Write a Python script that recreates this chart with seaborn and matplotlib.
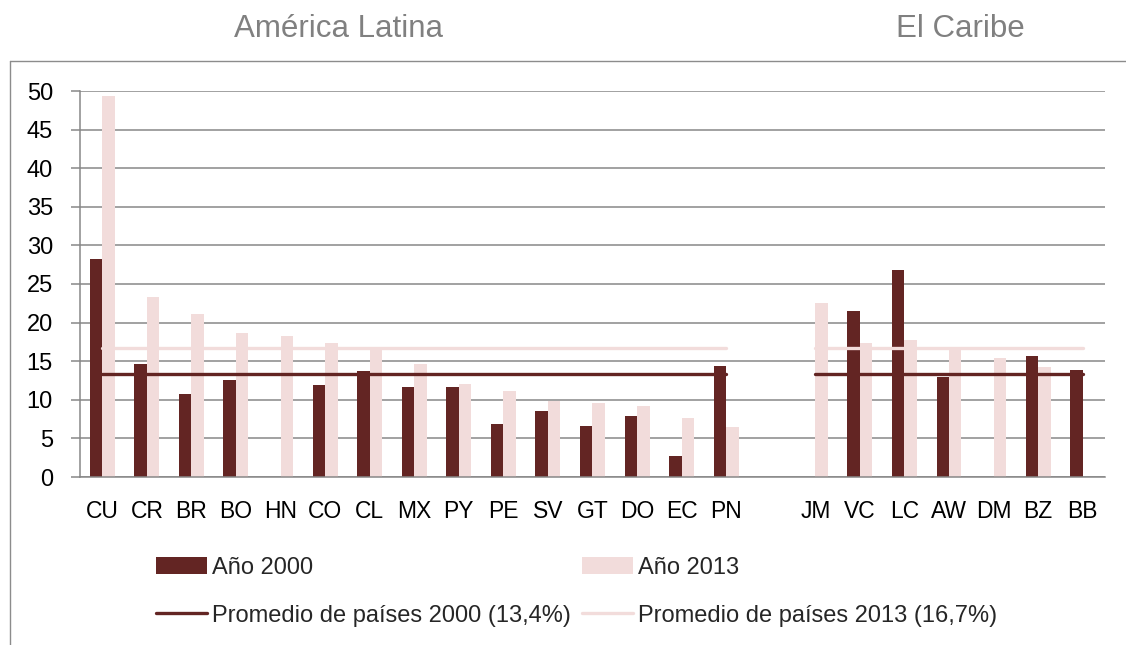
import numpy as np
import pandas as pd
import matplotlib
matplotlib.use("Agg")
import matplotlib.pyplot as plt
import seaborn as sns
from matplotlib.patches import Patch
from matplotlib.lines import Line2D

nan = np.nan

# ---- data ----
categorias = ["CU", "CR", "BR", "BO", "HN", "CO", "CL", "MX", "PY", "PE", "SV", "GT", "DO", "EC", "PN",
              "",
              "JM", "VC", "LC", "AW", "DM", "BZ", "BB"]
anio_2000 = [28.3, 14.6, 10.7, 12.6, nan, 11.9, 13.7, 11.7, 11.7, 6.9, 8.5, 6.6, 7.9, 2.7, 14.4,
             nan,
             nan, 21.5, 26.8, 13.0, nan, 15.7, 13.9]
anio_2013 = [49.4, 23.3, 21.1, 18.6, 18.2, 17.4, 16.9, 14.6, 12.0, 11.1, 9.8, 9.6, 9.2, 7.7, 6.5,
             nan,
             22.5, 17.4, 17.7, 16.6, 15.4, 14.3, nan]
grupo_latina = ["CU", "CR", "BR", "BO", "HN", "CO", "CL", "MX", "PY", "PE", "SV", "GT", "DO", "EC", "PN"]
grupo_caribe = ["JM", "VC", "LC", "AW", "DM", "BZ", "BB"]
promedio_2000 = 13.4
promedio_2013 = 16.7
series = ["Año 2000", "Año 2013"]
etiquetas_promedio = ["Promedio de países 2000 (13,4%)", "Promedio de países 2013 (16,7%)"]
titulos = ["América Latina", "El Caribe"]
yticks = [0, 5, 10, 15, 20, 25, 30, 35, 40, 45, 50]

# ---- style ----
sns.set_style("white")
plt.rcParams["font.family"] = ["Liberation Sans", "DejaVu Sans"]

DARK = "#632523"
LIGHT = "#F2DCDB"
GRID = "#878787"

W, H = 1126, 645
fig = plt.figure(figsize=(W / 100, H / 100), dpi=100)
ax = fig.add_axes([80 / W, 1 - 477 / H, (1105 - 80) / W, (477 - 91) / H])

df = pd.DataFrame({
    "pais": categorias * 2,
    "serie": [series[0]] * len(categorias) + [series[1]] * len(categorias),
    "valor": anio_2000 + anio_2013,
}).dropna()

sns.barplot(data=df, x="pais", y="valor", hue="serie", order=categorias, hue_order=series,
            palette={series[0]: DARK, series[1]: LIGHT}, width=0.56, saturation=1,
            errorbar=None, linewidth=0, legend=False, ax=ax, zorder=2)

for prom, color in [(promedio_2013, LIGHT), (promedio_2000, DARK)]:
    for grupo in (grupo_latina, grupo_caribe):
        xs = [categorias.index(c) for c in grupo]
        sns.lineplot(x=xs, y=[prom] * len(xs), color=color, lw=2.4, ax=ax,
                     solid_capstyle="round", zorder=4, legend=False)

ax.set_xlim(-0.5, len(categorias) - 0.5)
ax.set_ylim(0, 50)
ax.set_yticks(yticks)
ax.set_xticks(range(len(categorias)))
ax.set_xticklabels(categorias)
ax.set_xticks(np.arange(-0.5, len(categorias), 1), minor=True)
ax.set_xlabel("")
ax.set_ylabel("")

ax.yaxis.grid(True, color=GRID, lw=1.1, zorder=0)
ax.xaxis.grid(False)
ax.set_axisbelow(True)
for s in ["top", "right"]:
    ax.spines[s].set_visible(False)
for s in ["left", "bottom"]:
    ax.spines[s].set_color(GRID)
    ax.spines[s].set_linewidth(1.1)

ax.tick_params(axis="x", which="major", length=0, pad=16.8, labelsize=16.5, labelcolor="black")
ax.tick_params(axis="x", which="minor", length=5, width=1.1, color=GRID, direction="out")
ax.tick_params(axis="y", which="major", length=6.5, width=1.1, color=GRID, direction="out",
               pad=13, labelsize=17, labelcolor="black", left=True)

# titles
fig.text(338.5 / W, 1 - 36.7 / H, titulos[0], ha="center", va="baseline", fontsize=22.5, color="#808080")
fig.text(960 / W, 1 - 36.7 / H, titulos[1], ha="center", va="baseline", fontsize=22.5, color="#808080")

# chart border (left and top visible)
fig.add_artist(Line2D([10 / W, 10 / W], [1 - 61 / H, -0.01], transform=fig.transFigure, color="#8c8c8c", lw=1))
fig.add_artist(Line2D([10 / W, 1.01], [1 - 61 / H, 1 - 61 / H], transform=fig.transFigure, color="#8c8c8c", lw=1))

handles = [Patch(facecolor=DARK, edgecolor="none"),
           Line2D([], [], color=DARK, lw=2.4, solid_capstyle="round"),
           Patch(facecolor=LIGHT, edgecolor="none"),
           Line2D([], [], color=LIGHT, lw=2.4, solid_capstyle="round")]
labels = [series[0], etiquetas_promedio[0], series[1], etiquetas_promedio[1]]
fig.legend(handles, labels, ncol=2, loc="upper left", bbox_to_anchor=(156 / W, 1 - 557 / H),
           frameon=False, fontsize=17, handlelength=2.16, handleheight=0.7, handletextpad=0.2,
           columnspacing=0.5, labelspacing=1.09, borderpad=0, borderaxespad=0)

fig.savefig("out.png", dpi=100)
